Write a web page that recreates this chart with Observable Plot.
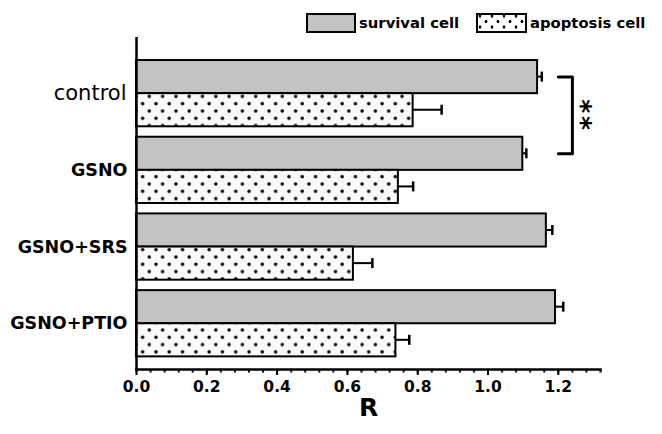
<!DOCTYPE html>
<html><head><meta charset="utf-8">
<script src="https://cdn.jsdelivr.net/npm/d3@7"></script>
<script src="https://cdn.jsdelivr.net/npm/@observablehq/plot@0.6"></script>
<style>
body{margin:0;background:#fff;font-family:"DejaVu Sans",sans-serif;}
#legend{position:relative;width:662px;height:35px;}
.lbox{position:absolute;top:13px;height:20px;box-sizing:border-box;border:2.5px solid #000;}
.ltext{position:absolute;top:14px;font-weight:bold;font-size:14.8px;line-height:18px;color:#000;}
#chart svg{display:block;}
</style></head>
<body>
<div id="legend"></div>
<div id="chart"></div>
<script>
// ---- data ----
const groups = ["control", "GSNO", "GSNO+SRS", "GSNO+PTIO"];
const seriesNames = ["survival cell", "apoptosis cell"];
const survival = [1.141, 1.099, 1.166, 1.192];
const survivalErr = [0.012, 0.010, 0.017, 0.022];
const apoptosis = [0.787, 0.745, 0.617, 0.738];
const apoptosisErr = [0.081, 0.042, 0.054, 0.038];
const xTicks = [0, 0.2, 0.4, 0.6, 0.8, 1.0, 1.2];
const xMinorTicks = d3.range(0, 1.3201, 0.04);
const sigPair = ["control", "GSNO"];
const sigLabel = "*\u200A*";

// ---- layout ----
const W = 662, H = 399, mt = 2, mb = 65, ml = 136, mr = 62;
const pIn = 0.136, pOut = 0.2325, align = 0.646;
const L = H - mt - mb;
const step = L / (groups.length - pIn + 2 * pOut);
const bw = step * (1 - pIn);
const GRAY = "#c3c3c3";

const surv = groups.map((g, i) => ({group: g, v: survival[i], e: survivalErr[i]}));
const apo = groups.map((g, i) => ({group: g, v: apoptosis[i], e: apoptosisErr[i]}));
const bracket = [
  {x: 1.20, y: sigPair[0]}, {x: 1.24, y: sigPair[0]},
  {x: 1.24, y: sigPair[1]}, {x: 1.20, y: sigPair[1]}
];

const plot = Plot.plot({
  width: W, height: H,
  marginTop: mt, marginBottom: mb, marginLeft: ml, marginRight: mr,
  style: {fontFamily: "DejaVu Sans, sans-serif", color: "#000", background: "#fff"},
  x: {domain: [0, 1.32], axis: null},
  y: {domain: groups, type: "band", paddingInner: pIn, paddingOuter: pOut, align, round: false, axis: null},
  marks: [
    // bars
    Plot.barX(surv, {x: "v", y: "group", fill: GRAY, stroke: "#000", strokeWidth: 2, insetBottom: bw / 2}),
    Plot.barX(apo, {x: "v", y: "group", fill: "url(#dots)", stroke: "#000", strokeWidth: 2, insetTop: bw / 2}),
    // error bars
    Plot.barX(surv, {x1: "v", x2: d => d.v + d.e, y: "group", fill: "#000", insetTop: bw / 4 - 1, insetBottom: 3 * bw / 4 - 1}),
    Plot.tickX(surv, {x: d => d.v + d.e, y: "group", stroke: "#000", strokeWidth: 2.5, insetTop: bw / 4 - 5, insetBottom: 3 * bw / 4 - 5}),
    Plot.barX(apo, {x1: "v", x2: d => d.v + d.e, y: "group", fill: "#000", insetTop: 3 * bw / 4 - 1, insetBottom: bw / 4 - 1}),
    Plot.tickX(apo, {x: d => d.v + d.e, y: "group", stroke: "#000", strokeWidth: 2.5, insetTop: 3 * bw / 4 - 5, insetBottom: bw / 4 - 5}),
    // axes lines
    Plot.ruleX([0], {stroke: "#000", strokeWidth: 2.5}),
    Plot.frame({anchor: "bottom", stroke: "#000", strokeWidth: 2.5}),
    Plot.axisX({ticks: xMinorTicks, tickSize: 3.5, tickFormat: () => "", strokeWidth: 2, label: null}),
    Plot.axisX({ticks: xTicks, tickSize: 6, tickPadding: 5, tickFormat: d3.format(".1f"), strokeWidth: 2,
      fontSize: 15.5, fontWeight: "bold", label: null}),
    Plot.text(["R"], {frameAnchor: "bottom", dy: 46, fontSize: 25, fontWeight: "bold", text: d => d}),
    // y labels
    Plot.text(groups.slice(0, 1), {y: d => d, text: d => d, frameAnchor: "left", textAnchor: "end", dx: -10, fontSize: 21}),
    Plot.text(groups.slice(1), {y: d => d, text: d => d, frameAnchor: "left", textAnchor: "end", dx: -9, fontSize: 17.5, fontWeight: "bold"}),
    // significance bracket
    Plot.line(bracket, {x: "x", y: "y", dy: -bw / 4, stroke: "#000", strokeWidth: 3, curve: "linear"}),
    Plot.text([sigLabel], {x: 1.272, y: () => sigPair[0], text: d => d, dx: -3, dy: 21, rotate: 90, fontSize: 27, fontWeight: "bold"})
  ]
});

// dot pattern
const ns = "http://www.w3.org/2000/svg";
const defs = document.createElementNS(ns, "defs");
const pat = document.createElementNS(ns, "pattern");
pat.setAttribute("id", "dots");
pat.setAttribute("patternUnits", "userSpaceOnUse");
pat.setAttribute("width", 13.3);
pat.setAttribute("height", 14.6);
const bg = document.createElementNS(ns, "rect");
bg.setAttribute("width", 13.3); bg.setAttribute("height", 14.6); bg.setAttribute("fill", "#fafafa");
pat.appendChild(bg);
for (const [cx, cy] of [[3, 3], [9.65, 10.3]]) {
  const c = document.createElementNS(ns, "circle");
  c.setAttribute("cx", cx); c.setAttribute("cy", cy); c.setAttribute("r", 1.75); c.setAttribute("fill", "#000");
  pat.appendChild(c);
}
defs.appendChild(pat);
plot.insertBefore(defs, plot.firstChild);
document.getElementById("chart").appendChild(plot);

// legend
const legend = document.getElementById("legend");
const items = [
  {name: seriesNames[0], left: 306, width: 50, bg: GRAY},
  {name: seriesNames[1], left: 476, width: 51,
   bg: "radial-gradient(circle, #000 1.2px, transparent 1.7px) 2px 1px/12px 11px, radial-gradient(circle, #000 1.2px, transparent 1.7px) 8px 6.5px/12px 11px, #fff"}
];
for (const it of items) {
  const b = document.createElement("div");
  b.className = "lbox";
  b.style.left = it.left + "px";
  b.style.width = it.width + "px";
  b.style.background = it.bg;
  legend.appendChild(b);
  const t = document.createElement("div");
  t.className = "ltext";
  t.style.left = (it.left + it.width + 3) + "px";
  t.textContent = it.name;
  legend.appendChild(t);
}
</script>
</body></html>
